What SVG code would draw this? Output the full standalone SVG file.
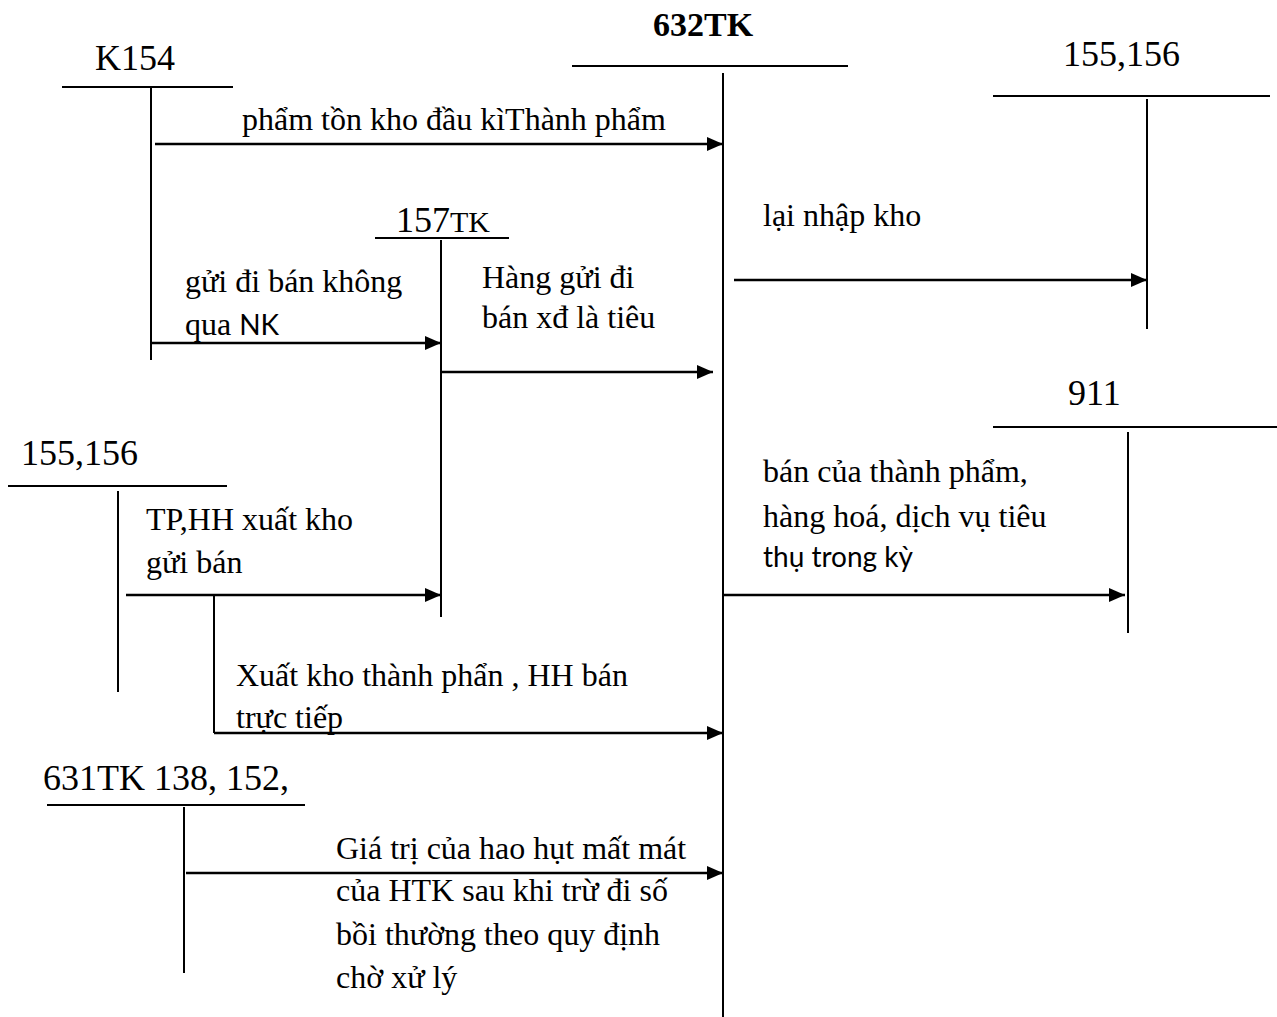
<svg xmlns="http://www.w3.org/2000/svg" width="1277" height="1017" viewBox="0 0 1277 1017">
<style>
.ln{stroke:#000;stroke-width:2;fill:none}
.ar{stroke:#000;stroke-width:2.5;fill:none;marker-end:url(#ah)}
.lb{font-family:"Liberation Serif","Times New Roman",serif;font-size:36px;fill:#000}
.tx{font-family:"Liberation Serif","Times New Roman",serif;font-size:32px;fill:#000}
.sn{font-family:Lato,"Liberation Sans",sans-serif;font-size:28px;fill:#000}
</style>
<defs>
<marker id="ah" markerUnits="userSpaceOnUse" markerWidth="18" markerHeight="16" refX="16" refY="7" orient="auto">
<path d="M0,0 L16,7 L0,14 z" fill="#000"/>
</marker>
</defs>
<rect width="1277" height="1017" fill="#fff"/>
<g id="tk632">
<text class="lb" x="653" y="36" style="font-weight:bold;font-size:34px">632TK</text>
<line class="ln" x1="572" y1="66" x2="848" y2="66"/>
<line class="ln" x1="723" y1="73" x2="723" y2="1017"/>
</g>
<g id="k154">
<text class="lb" x="95" y="70">K154</text>
<line class="ln" x1="62" y1="87" x2="233" y2="87"/>
<line class="ln" x1="151" y1="87" x2="151" y2="360"/>
</g>
<g id="tk157">
<text class="lb" x="396" y="232">157<tspan style="font-size:30px">TK</tspan></text>
<line class="ln" x1="375" y1="238" x2="509" y2="238"/>
<line class="ln" x1="441" y1="240" x2="441" y2="617"/>
</g>
<g id="tk155r">
<text class="lb" x="1063" y="66">155,156</text>
<line class="ln" x1="993" y1="96" x2="1270" y2="96"/>
<line class="ln" x1="1147" y1="99" x2="1147" y2="329"/>
</g>
<g id="tk911">
<text class="lb" x="1068" y="405">911</text>
<line class="ln" x1="993" y1="427" x2="1277" y2="427"/>
<line class="ln" x1="1128" y1="432" x2="1128" y2="633"/>
</g>
<g id="tk155l">
<text class="lb" x="21" y="465">155,156</text>
<line class="ln" x1="8" y1="486" x2="227" y2="486"/>
<line class="ln" x1="118" y1="491" x2="118" y2="692"/>
</g>
<g id="tk631">
<text class="lb" x="43" y="790">631TK 138, 152,</text>
<line class="ln" x1="47" y1="805" x2="305" y2="805"/>
<line class="ln" x1="184" y1="807" x2="184" y2="973"/>
</g>
<g id="connectors">
<line class="ar" x1="155" y1="144" x2="723" y2="144"/>
<line class="ar" x1="151" y1="343" x2="441" y2="343"/>
<line class="ar" x1="441" y1="372" x2="713" y2="372"/>
<line class="ar" x1="734" y1="280" x2="1147" y2="280"/>
<line class="ar" x1="723" y1="595" x2="1125" y2="595"/>
<line class="ar" x1="126" y1="595" x2="441" y2="595"/>
<line class="ln" x1="214" y1="595" x2="214" y2="733"/>
<line class="ar" x1="214" y1="733" x2="723" y2="733"/>
<line class="ar" x1="186" y1="873" x2="723" y2="873"/>
</g>
<g id="labels">
<text class="tx" x="242" y="130">phẩm tồn kho đầu kìThành phẩm</text>
<text class="tx" x="185" y="292">gửi đi bán không</text>
<text class="tx" x="185" y="335">qua <tspan class="sn">NK</tspan></text>
<text class="tx" x="482" y="288">Hàng gửi đi</text>
<text class="tx" x="482" y="328">bán xđ là tiêu</text>
<text class="tx" x="763" y="226">lại nhập kho</text>
<text class="tx" x="763" y="482">bán của thành phẩm,</text>
<text class="tx" x="763" y="527">hàng hoá, dịch vụ tiêu</text>
<text class="sn" x="763" y="567">thụ trong kỳ</text>
<text class="tx" x="146" y="530">TP,HH xuất kho</text>
<text class="tx" x="146" y="573">gửi bán</text>
<text class="tx" x="236" y="686">Xuất kho thành phẩn , HH bán</text>
<text class="tx" x="236" y="728">trực tiếp</text>
<text class="tx" x="336" y="859">Giá trị của hao hụt mất mát</text>
<text class="tx" x="336" y="901">của HTK sau khi trừ đi số</text>
<text class="tx" x="336" y="945">bồi thường theo quy định</text>
<text class="tx" x="336" y="988">chờ xử lý</text>
</g>
</svg>
